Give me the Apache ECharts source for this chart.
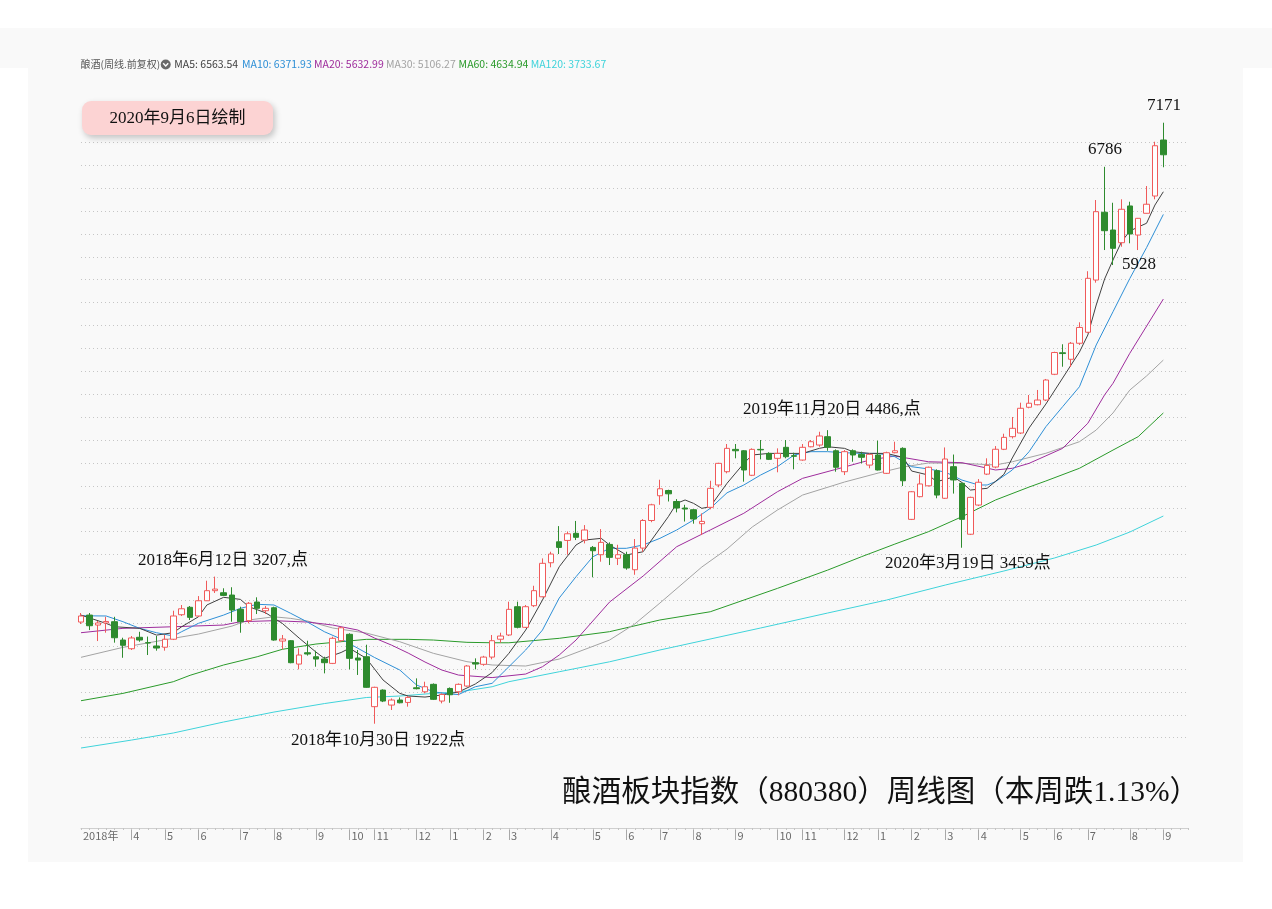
<!DOCTYPE html>
<html><head><meta charset="utf-8">
<script src="https://cdn.jsdelivr.net/npm/echarts@6/dist/echarts.min.js"></script>
<style>
html,body{margin:0;padding:0;background:#fff;}
#bg1{position:absolute;left:0;top:28px;width:1272px;height:40px;background:#f9f9f9;}
#bg2{position:absolute;left:28px;top:68px;width:1215px;height:794px;background:#f9f9f9;}
#chart{position:absolute;left:0;top:0;width:1272px;height:909px;}
</style></head><body>
<div id="bg1"></div><div id="bg2"></div>
<div id="chart"></div>
<script>
// ---- week dates (last trading day of each week) ----
const dates = ['2018-02-23','2018-03-02','2018-03-09','2018-03-16','2018-03-23','2018-03-30','2018-04-04','2018-04-13','2018-04-20','2018-04-27',
'2018-05-04','2018-05-11','2018-05-18','2018-05-25','2018-06-01','2018-06-08','2018-06-15','2018-06-22','2018-06-29','2018-07-06',
'2018-07-13','2018-07-20','2018-07-27','2018-08-03','2018-08-10','2018-08-17','2018-08-24','2018-08-31','2018-09-07','2018-09-14',
'2018-09-21','2018-09-28','2018-10-12','2018-10-19','2018-10-26','2018-11-02','2018-11-09','2018-11-16','2018-11-23','2018-11-30',
'2018-12-07','2018-12-14','2018-12-21','2018-12-28','2019-01-04','2019-01-11','2019-01-18','2019-01-25','2019-02-01','2019-02-15',
'2019-02-22','2019-03-01','2019-03-08','2019-03-15','2019-03-22','2019-03-29','2019-04-04','2019-04-12','2019-04-19','2019-04-26',
'2019-04-30','2019-05-10','2019-05-17','2019-05-24','2019-05-31','2019-06-06','2019-06-14','2019-06-21','2019-06-28','2019-07-05',
'2019-07-12','2019-07-19','2019-07-26','2019-08-02','2019-08-09','2019-08-16','2019-08-23','2019-08-30','2019-09-06','2019-09-12',
'2019-09-20','2019-09-27','2019-09-30','2019-10-11','2019-10-18','2019-10-25','2019-11-01','2019-11-08','2019-11-15','2019-11-22',
'2019-11-29','2019-12-06','2019-12-13','2019-12-20','2019-12-27','2020-01-03','2020-01-10','2020-01-17','2020-01-23','2020-02-07',
'2020-02-14','2020-02-21','2020-02-28','2020-03-06','2020-03-13','2020-03-20','2020-03-27','2020-04-03','2020-04-10','2020-04-17',
'2020-04-24','2020-04-30','2020-05-08','2020-05-15','2020-05-22','2020-05-29','2020-06-05','2020-06-12','2020-06-19','2020-06-24',
'2020-07-03','2020-07-10','2020-07-17','2020-07-24','2020-07-31','2020-08-07','2020-08-14','2020-08-21','2020-08-28','2020-09-04'];

// ---- weekly OHLC ----
const opens = [2810,2871,2784,2802,2813,2653,2577,2677,2630,2601, 2590,2660,2874,2939,2863,2996,3084,3066,3046,2921,
2822,2985,2909,2935,2644,2647,2443,2542,2507,2487, 2449,2647,2703,2496,2507,2071,2216,2085,2129,2108,
2236,2201,2266,2120,2230,2201,2251,2455,2441,2504, 2660,2697,2944,2764,2953,3031,3328,3511,3523,3585,
3526,3462,3398,3488,3367,3398,3267,3456,3697,3913, 3959,3863,3806,3791,3669,3812,4007,4123,4318,4306,
4092,4318,4283,4240,4336,4263,4225,4341,4356,4429, 4306,4123,4306,4275,4181,4269,4109,4289,4327,3707,
3905,4000,4132,3891,4167,4022,3577,3832,4102,4164, 4319,4429,4461,4686,4708,4749,4974,5162,5105,5245,
5341,5797,6389,6234,6123,6444,6190,6380,6531,7020];
const closes = [2863,2778,2802,2815,2673,2607,2671,2653,2627,2583, 2660,2863,2926,2851,2996,3084,3098,3043,2915,2813,
2974,2930,2930,2653,2662,2455,2522,2531,2487,2455, 2668,2760,2493,2478,2240,2240,2120,2129,2105,2152,
2228,2245,2135,2178,2175,2266,2426,2443,2504,2647, 2688,2921,2764,2944,3084,3323,3404,3462,3581,3550,
3614,3433,3506,3375,3398,3282,3456,3697,3834,3974, 3930,3806,3797,3710,3689,3978,4196,4327,4306,4138,
4318,4314,4231,4283,4254,4258,4336,4385,4435,4336, 4162,4298,4269,4249,4275,4138,4289,4306,4044,3948,
4016,4162,3919,4234,4051,3707,3899,4031,4178,4319, 4423,4502,4677,4721,4749,4924,5164,5155,5245,5383,
5812,6394,6228,6074,6415,6199,6336,6459,6970,6891];
const lows = [2793,2740,2644,2717,2630,2498,2566,2638,2522,2560, 2560,2653,2863,2828,2857,2994,3064,3037,2813,2717,
2799,2880,2880,2647,2572,2450,2397,2517,2420,2362, 2443,2638,2397,2348,2236,1922,2111,2042,2100,2071,
2222,2188,2129,2100,2105,2170,2245,2397,2428,2485, 2630,2688,2755,2758,2941,3026,3288,3404,3398,3526,
3497,3201,3337,3308,3308,3267,3223,3424,3682,3834, 3863,3768,3688,3669,3570,3795,3987,4109,4240,4036,
4085,4231,4225,4118,4240,4144,4219,4336,4341,4306, 4123,4094,4210,4196,4153,4134,4103,4284,3998,3701,
3899,3994,3891,3885,3932,3459,3570,3823,4094,4153, 4312,4413,4452,4677,4703,4740,4967,5040,5038,5230,
5334,5774,6059,5928,6088,6118,6059,6378,6502,6782];
const highs = [2889,2889,2819,2856,2856,2673,2688,2725,2683,2688, 2697,2909,2959,2950,3037,3171,3207,3105,3114,2944,
2985,3026,2950,2944,2697,2653,2580,2647,2560,2507, 2682,2769,2712,2566,2612,2245,2222,2143,2152,2163,
2318,2289,2274,2187,2239,2274,2434,2493,2515,2697, 2717,2988,2988,2959,3127,3366,3424,3648,3601,3693,
3657,3474,3622,3506,3485,3424,3535,3709,3843,4053, 3966,3884,3834,3797,3759,4044,4201,4365,4365,4312,
4327,4400,4293,4327,4400,4289,4365,4400,4472,4486, 4318,4312,4318,4298,4283,4394,4298,4385,4336,3954,
4100,4168,4144,4335,4273,4027,3905,4059,4240,4347, 4455,4601,4726,4793,4837,4933,5171,5236,5256,5428,
5874,6496,6786,6472,6502,6481,6339,6618,7005,7171];

// ---- moving averages: [week index, value] ----
const ma5 = [[0,2871],[3,2798],[4,2769],[7,2755],[9,2696],[11,2717],[12,2769],[14,2856],[15,2959],[17,3026],[19,3008],[20,2944],[22,2891],[24,2798],[26,2670],[28,2548],[29,2493],[31,2544],[32,2581],[34,2493],[36,2304],[38,2187],[39,2164],[41,2155],[43,2173],[45,2199],[47,2269],[49,2369],[51,2537],[53,2740],[55,3002],[57,3293],[59,3483],[60,3526],[62,3541],[63,3483],[65,3396],[67,3424],[68,3526],[70,3730],[71,3847],[72,3876],[73,3847],[74,3803],[75,3818],[77,4022],[79,4196],[80,4269],[82,4283],[84,4283],[86,4283],[88,4327],[89,4341],[91,4327],[92,4298],[94,4283],[96,4283],[98,4248],[99,4129],[101,4094],[102,4036],[104,4077],[105,4029],[106,3963],[108,3978],[110,4100],[111,4243],[113,4505],[115,4714],[117,4941],[118,5055],[119,5168],[120,5317],[121,5579],[122,5806],[123,5972],[124,6129],[125,6225],[126,6260],[127,6293],[128,6452],[129,6568]];
const ma10 = [[0,2865],[3,2863],[5,2813],[7,2755],[9,2717],[11,2688],[12,2726],[14,2799],[17,2871],[19,2930],[21,2965],[23,2959],[25,2886],[27,2810],[29,2726],[31,2662],[33,2581],[35,2500],[38,2391],[40,2260],[42,2201],[44,2181],[45,2177],[47,2245],[49,2275],[51,2420],[53,2566],[55,2740],[57,3020],[59,3206],[61,3380],[63,3454],[65,3454],[67,3483],[69,3541],[71,3614],[73,3701],[75,3803],[77,3939],[79,4007],[81,4094],[83,4167],[85,4269],[87,4298],[89,4298],[91,4289],[93,4283],[95,4283],[97,4254],[99,4167],[101,4147],[103,4120],[105,4050],[107,4007],[108,4007],[109,4036],[111,4138],[113,4298],[115,4516],[117,4691],[119,4865],[121,5230],[123,5520],[125,5810],[127,6080],[129,6370]];
const ma20 = [[0,2717],[5,2755],[11,2769],[17,2784],[19,2813],[23,2822],[27,2810],[30,2784],[33,2740],[35,2670],[37,2609],[39,2539],[41,2461],[43,2391],[45,2347],[49,2325],[53,2356],[55,2420],[57,2522],[59,2653],[63,2985],[67,3212],[71,3468],[75,3614],[79,3760],[83,3948],[86,4065],[90,4144],[94,4225],[97,4260],[101,4210],[105,4202],[109,4138],[111,4153],[113,4196],[117,4327],[120,4546],[122,4794],[123,4895],[125,5157],[129,5631]];
const ma30 = [[0,2502],[5,2589],[11,2668],[14,2705],[18,2775],[20,2828],[23,2856],[25,2842],[27,2819],[30,2758],[34,2714],[38,2638],[42,2537],[46,2464],[49,2435],[53,2426],[57,2487],[63,2653],[66,2793],[69,2976],[74,3291],[77,3448],[80,3640],[83,3788],[86,3919],[91,4033],[95,4111],[98,4164],[101,4199],[105,4196],[109,4182],[111,4210],[115,4284],[119,4385],[121,4487],[123,4636],[125,4836],[127,4959],[129,5098]];
const ma60 = [[0,2123],[5,2187],[11,2289],[13,2345],[17,2435],[21,2507],[24,2572],[28,2618],[34,2659],[39,2659],[42,2653],[46,2633],[49,2629],[51,2629],[57,2668],[63,2726],[69,2828],[75,2900],[83,3104],[89,3264],[93,3380],[97,3491],[101,3599],[105,3730],[109,3876],[113,3989],[115,4042],[119,4153],[123,4312],[126,4429],[129,4636]];
const ma120 = [[0,1710],[6,1779],[11,1841],[17,1937],[23,2024],[29,2098],[34,2151],[38,2164],[42,2187],[45,2199],[49,2245],[51,2289],[57,2376],[63,2463],[69,2566],[81,2758],[89,2889],[96,3002],[103,3133],[110,3256],[116,3369],[121,3483],[125,3596],[129,3736]];

// ---- legend texts ----
const seriesTitle = '酿酒(周线.前复权)';
const maNames = ['MA5','MA10','MA20','MA30','MA60','MA120'];
const maLast = ['6563.54','6371.93','5632.99','5106.27','4634.94','3733.67'];
const maColors = ['#404040','#2e8fd6','#9e2c9c','#a3a3a3','#2a9a2a','#3fd3da'];

// ---- annotations ----
const chartTitle = '酿酒板块指数（880380）周线图（本周跌1.13%）';
const drawDate = '2020年9月6日绘制';
const notes = ['2018年6月12日 3207,点','2018年10月30日 1922点','2019年11月20日 4486,点','2020年3月19日 3459点','7171','6786','5928'];

const categories = dates.concat(['', ' ', '  ']);
const candle = dates.map((d, i) => [opens[i], closes[i], lows[i], highs[i]]);

function isMonthStart(i) {
  if (i >= dates.length) return false;
  if (i === 0) return true;
  if (i < 4) return false;
  return dates[i].slice(5, 7) !== dates[i - 1].slice(5, 7);
}

const chart = echarts.init(document.getElementById('chart'), null, {renderer: 'canvas'});
const serif = "'Liberation Serif','Noto Sans CJK SC',serif";
const sans = "'Noto Sans CJK SC','Noto Sans',sans-serif";

const graphics = [];
// date box
graphics.push({type: 'rect', shape: {x: 82, y: 101, width: 191, height: 34, r: 9},
  style: {fill: '#fcd3d3', shadowBlur: 6, shadowOffsetX: 2, shadowOffsetY: 3, shadowColor: 'rgba(0,0,0,0.22)'}, z: 10});
graphics.push({type: 'text', x: 177.5, y: 118.5, z: 11,
  style: {text: drawDate, font: '17px ' + serif, fill: '#111', align: 'center', verticalAlign: 'middle'}});
// legend
graphics.push({type: 'text', x: 80.5, y: 64.5, z: 11,
  style: {text: seriesTitle, font: '10px ' + sans, fill: '#555', align: 'left', verticalAlign: 'middle'}});
graphics.push({type: 'circle', shape: {cx: 165.7, cy: 64.5, r: 5}, style: {fill: '#6a6a6a'}, z: 11});
graphics.push({type: 'polyline', shape: {points: [[163.2, 63.2], [165.7, 65.9], [168.2, 63.2]]},
  style: {stroke: '#fff', lineWidth: 1.4, fill: null}, z: 12});
const legX = [174.3, 242, 314, 386, 458.6, 530.7];
maNames.forEach((n, i) => {
  graphics.push({type: 'text', x: legX[i], y: 64.5, z: 11,
    style: {text: n + ': ' + maLast[i], font: '10.5px ' + sans, fill: maColors[i], align: 'left', verticalAlign: 'middle'}});
});
// annotations
const notePos = [[138, 561], [291, 741], [743, 410], [885, 564], [1147, 106], [1088, 150], [1122, 265]];
notes.forEach((t, i) => {
  graphics.push({type: 'text', x: notePos[i][0], y: notePos[i][1], z: 11,
    style: {text: t, font: '17px ' + serif, fill: '#111', align: 'left', verticalAlign: 'middle'}});
});
graphics.push({type: 'text', x: 1199, y: 793, z: 11,
  style: {text: chartTitle, font: '29.5px ' + serif, fill: '#111', align: 'right', verticalAlign: 'middle'}});

const lineSeries = [ma120, ma60, ma30, ma20, ma10, ma5].map((d, k) => {
  const idx = 5 - k;
  return {name: maNames[idx], type: 'line', data: d, symbol: 'none', showSymbol: false, z: 2,
    lineStyle: {color: maColors[idx], width: 1}, silent: true, animation: false};
});

const option = {
  animation: false,
  backgroundColor: 'transparent',
  grid: {left: 81, top: 119.4, width: 1107.5, height: 641.2, containLabel: false, outerBoundsMode: 'none'},
  xAxis: [{
    type: 'category', data: categories, boundaryGap: false, position: 'bottom', offset: 67.4,
    axisLine: {show: true, lineStyle: {color: '#cfcfcf', width: 1}},
    axisTick: {show: true, interval: (i) => i > 0 && isMonthStart(i), length: 12, lineStyle: {color: '#a8a8a8'}},
    axisLabel: {show: true, interval: (i) => isMonthStart(i),
      formatter: (v, i) => i === 0 ? v.slice(0, 4) + '年' : String(+v.slice(5, 7)),
      align: 'left', padding: [0, 0, 0, 2], margin: 2, fontSize: 11, color: '#6a6a6a', fontFamily: sans},
    splitLine: {show: false}
  }, {
    type: 'category', data: categories, boundaryGap: false, position: 'bottom', offset: 67.4,
    axisLine: {show: false},
    axisTick: {show: true, interval: 0, length: 2, lineStyle: {color: '#c4c4c4'}},
    axisLabel: {show: false}, splitLine: {show: false}
  }],
  yAxis: {
    type: 'value', min: 1600, max: 7200, interval: 200, scale: true,
    axisLine: {show: false}, axisTick: {show: false}, axisLabel: {show: false},
    splitLine: {show: true, showMinLine: false, showMaxLine: false, lineStyle: {color: '#c6c6c6', type: [1, 3], width: 1}}
  },
  series: lineSeries.concat([{
    type: 'candlestick', data: candle, barWidth: 6, z: 3, silent: true,
    itemStyle: {color: '#ffffff', color0: '#2e8b2e', borderColor: '#f05a5a', borderColor0: '#2e8b2e', borderWidth: 1}
  }]),
  graphic: graphics
};
chart.setOption(option);
</script></body></html>
